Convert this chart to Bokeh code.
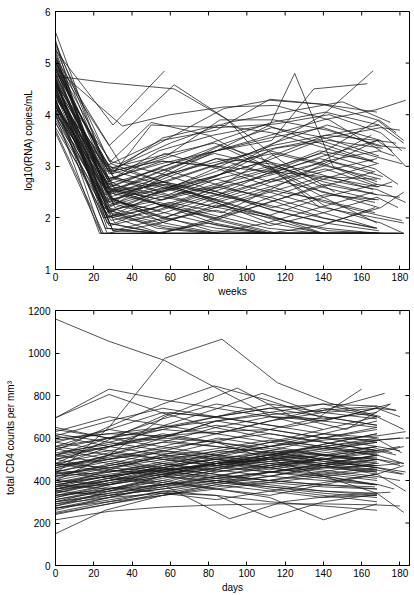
from bokeh.plotting import figure
from bokeh.layouts import column
from bokeh.models import ColumnDataSource, FixedTicker, Range1d
from bokeh.embed import file_html
from bokeh.resources import INLINE

# ---- viral load per subject (weeks, log10 copies/mL) ----
rna_weeks = [
    [0, 27, 62, 90, 118, 146],
    [0, 30, 57],
    [0, 28, 62, 90, 112, 138],
    [0, 35, 60, 88, 115, 143, 170],
    [0, 29, 50, 80, 110, 140, 168],
    [0, 27, 54, 84, 112, 125, 145, 168],
    [0, 28, 56, 84, 113, 135, 163],
    [0, 27, 55, 84, 112, 140, 166],
    [0, 28, 56, 84, 112, 140, 168, 183],
    [0, 26, 55, 84, 112, 140, 168, 182],
    [0, 30, 58, 86, 114, 142, 170],
    [0, 25, 53, 82, 110, 138, 166, 180],
    [0, 24, 52, 80, 108, 136, 164, 178],
    [0, 28, 56, 84, 112, 140, 168],
    [0, 27, 55, 83, 111, 139, 167],
    [0, 30, 58, 86, 114, 142, 170, 182],
    [0, 26, 54, 82, 110, 138, 166],
    [0, 29, 57, 85, 113, 141, 169],
    [0, 28, 55, 84, 112, 140, 168, 176],
    [0, 27, 56, 85, 113, 141, 169],
    [0, 31, 59, 87, 115, 143, 171],
    [0, 25, 53, 81, 109, 137, 165, 179],
    [0, 28, 56, 84, 112, 140, 168],
    [0, 27, 54, 82, 110, 138, 166, 181],
    [0, 30, 57, 85, 113, 141, 169],
    [0, 29, 56, 84, 112, 140, 168, 180],
    [0, 26, 55, 83, 111, 139, 167],
    [0, 28, 57, 85, 113, 141, 169, 178],
    [0, 27, 55, 84, 112, 140, 168],
    [0, 31, 58, 86, 114, 142, 170, 183],
    [0, 25, 54, 82, 110, 138, 166],
    [0, 29, 57, 85, 113, 141, 169],
    [0, 28, 56, 84, 112, 140, 168, 182],
    [0, 27, 54, 83, 111, 139, 167],
    [0, 30, 58, 86, 114, 142, 170],
    [0, 26, 55, 83, 111, 139, 167, 181],
    [0, 28, 56, 85, 113, 141, 169],
    [0, 29, 57, 84, 112, 140, 168],
    [0, 27, 56, 84, 112, 140, 168, 180],
    [0, 28, 55, 83, 111, 139, 167],
    [0, 31, 59, 87, 115, 143, 171],
    [0, 25, 53, 81, 109, 137, 165],
    [0, 30, 57, 85, 113, 141, 169, 182],
    [0, 27, 55, 84, 112, 140, 168],
    [0, 28, 56, 84, 112, 140, 168, 176],
    [0, 26, 54, 82, 110, 138, 166],
    [0, 29, 58, 86, 114, 142, 170, 180],
    [0, 27, 55, 83, 111, 139, 167],
    [0, 28, 57, 85, 113, 141, 169],
    [0, 30, 56, 84, 112, 140, 168, 183],
    [0, 24, 52, 80, 108, 136, 164],
    [0, 27, 55, 84, 112, 140, 168, 179],
    [0, 28, 56, 85, 113, 141, 169],
    [0, 31, 58, 86, 114, 142, 170],
    [0, 26, 54, 83, 111, 139, 167, 182],
    [0, 29, 57, 85, 113, 141, 169],
    [0, 27, 55, 84, 112, 140, 168],
    [0, 28, 56, 84, 112, 140, 168, 178],
    [0, 30, 58, 86, 114, 142, 170],
    [0, 25, 53, 82, 110, 138, 166],
    [0, 28, 57, 85, 113, 141, 169, 181],
    [0, 27, 56, 84, 112, 140, 168],
    [0, 29, 55, 83, 111, 139, 167],
    [0, 28, 56, 85, 113, 141, 169, 177],
    [0, 26, 54, 82, 110, 138, 166],
    [0, 30, 58, 86, 114, 142, 170, 182],
    [0, 27, 55, 83, 111, 139, 167],
    [0, 28, 56, 84, 112, 140, 168],
    [0, 31, 59, 87, 115, 143, 171, 180],
    [0, 25, 54, 82, 110, 138, 166],
    [0, 29, 57, 85, 113, 141, 169],
    [0, 27, 55, 84, 112, 140, 168, 183],
    [0, 28, 56, 84, 112, 140, 168],
    [0, 30, 57, 85, 113, 141, 169],
    [0, 26, 55, 83, 111, 139, 167, 179],
    [0, 28, 56, 85, 113, 141, 169],
    [0, 27, 54, 82, 110, 138, 166],
    [0, 29, 57, 85, 113, 141, 169, 182],
    [0, 28, 56, 84, 112, 140, 168],
    [0, 23, 50, 78, 106, 134, 162],
    [0, 32, 60, 88, 116, 144, 172],
    [0, 28, 56, 84, 112, 140, 168, 176],
    [0, 34, 62, 88, 112, 140, 168],
    [0, 30, 50, 85, 115, 143, 170, 181],
    [0, 27, 60, 90, 120, 150, 175],
]
rna_log10 = [
    [4.75, 4.62, 4.5, 3.9, 3.1, 2.5],
    [5.25, 3.8, 4.85],
    [5.0, 3.4, 4.58, 3.9, 3.0, 2.2],
    [4.9, 3.78, 4.0, 4.15, 4.18, 3.9, 3.3],
    [4.6, 3.1, 3.85, 3.6, 3.0, 2.4, 1.9],
    [4.4, 2.5, 2.9, 3.3, 3.8, 4.8, 3.0, 2.7],
    [4.2, 2.2, 2.8, 3.3, 3.5, 4.5, 4.6],
    [4.5, 2.0, 2.5, 2.8, 3.4, 4.0, 4.85],
    [4.8, 2.6, 3.0, 3.3, 3.6, 3.9, 4.1, 4.28],
    [5.6, 3.0, 3.5, 3.7, 4.3, 4.2, 3.9, 3.5],
    [4.1, 2.9, 3.2, 3.9, 3.9, 3.7, 3.4],
    [3.7, 1.7, 1.7, 1.7, 1.7, 1.7, 1.7, 1.7],
    [4.3, 1.7, 1.7, 1.9, 1.7, 1.7, 1.7, 1.7],
    [4.9, 2.4, 2.0, 1.8, 1.7, 1.7, 1.7],
    [5.1, 2.8, 2.6, 2.3, 2.0, 1.7, 1.7],
    [4.6, 2.3, 2.9, 3.4, 2.9, 2.2, 1.9, 1.7],
    [4.0, 2.1, 2.4, 2.6, 2.9, 3.3, 3.1],
    [4.35, 2.7, 2.2, 2.6, 3.2, 3.6, 3.8],
    [4.55, 2.9, 3.1, 3.0, 2.7, 3.0, 3.5, 3.3],
    [3.95, 2.5, 2.7, 3.05, 3.4, 3.6, 3.5],
    [4.25, 1.9, 2.3, 2.1, 2.6, 3.1, 2.8],
    [4.7, 2.2, 1.8, 1.7, 1.7, 1.7, 1.7, 1.7],
    [5.3, 2.75, 3.1, 3.0, 2.9, 2.8, 2.75],
    [4.15, 2.35, 2.55, 2.8, 3.1, 3.5, 3.2, 3.05],
    [4.45, 2.6, 2.4, 2.2, 2.0, 1.8, 1.7],
    [5.0, 3.05, 2.7, 2.3, 1.9, 1.7, 1.7, 1.7],
    [4.6, 2.45, 2.9, 3.25, 3.0, 2.5, 2.3],
    [3.85, 1.85, 2.1, 2.45, 2.9, 3.3, 3.9, 3.65],
    [4.3, 2.05, 1.7, 2.0, 2.4, 2.1, 1.8],
    [4.8, 2.2, 2.55, 3.0, 3.45, 3.8, 3.5, 3.0],
    [5.15, 2.65, 3.3, 3.6, 3.8, 3.45, 3.1],
    [4.05, 2.4, 1.9, 1.7, 1.7, 1.7, 1.7],
    [4.65, 2.15, 2.35, 2.75, 2.5, 2.2, 2.0, 1.9],
    [4.95, 2.95, 3.2, 3.45, 3.1, 2.6, 2.35],
    [4.4, 1.75, 1.7, 1.7, 1.7, 1.7, 1.7],
    [4.2, 2.6, 2.25, 1.9, 1.7, 1.7, 1.7, 1.7],
    [5.4, 2.85, 3.55, 3.8, 3.65, 3.35, 3.05],
    [4.75, 2.5, 2.65, 2.35, 2.05, 2.4, 2.65],
    [3.9, 2.3, 2.75, 3.15, 3.05, 2.7, 2.45, 2.4],
    [4.5, 1.9, 1.7, 1.7, 1.7, 1.85, 2.2],
    [4.85, 2.75, 2.45, 2.85, 3.35, 3.5, 3.35],
    [4.1, 2.0, 2.2, 2.55, 2.8, 3.05, 3.6],
    [5.05, 2.35, 2.1, 1.85, 1.7, 1.7, 1.7, 1.7],
    [4.35, 2.65, 2.95, 2.65, 2.35, 2.0, 1.8],
    [4.6, 2.1, 2.55, 2.9, 3.3, 3.05, 2.65, 2.6],
    [5.2, 2.4, 2.05, 1.75, 1.7, 1.7, 1.7],
    [4.0, 2.55, 2.85, 3.1, 3.35, 3.55, 3.75, 3.7],
    [4.7, 1.8, 1.7, 1.95, 2.3, 2.6, 2.9],
    [4.25, 2.25, 2.6, 2.35, 2.7, 2.95, 2.6],
    [4.9, 2.8, 2.5, 2.75, 3.0, 2.75, 2.55, 2.3],
    [3.65, 1.7, 1.7, 1.7, 1.7, 1.7, 1.7],
    [4.45, 2.2, 1.95, 2.15, 1.85, 2.1, 2.4, 2.2],
    [5.35, 3.1, 2.85, 2.5, 2.15, 1.9, 1.75],
    [4.15, 2.45, 2.7, 3.05, 3.25, 3.0, 2.75],
    [4.55, 2.0, 2.3, 2.05, 1.8, 1.7, 1.7, 1.7],
    [4.8, 2.6, 3.0, 3.4, 3.75, 3.55, 3.2],
    [4.3, 1.7, 1.9, 2.25, 2.05, 1.7, 1.7],
    [5.0, 2.45, 2.8, 3.15, 2.85, 3.2, 3.5, 3.45],
    [4.65, 2.05, 1.8, 1.7, 1.7, 1.7, 1.7],
    [4.05, 2.35, 2.15, 2.5, 2.85, 3.15, 2.9],
    [4.4, 2.7, 3.25, 2.95, 2.6, 2.3, 2.05, 1.95],
    [5.1, 2.5, 2.25, 2.0, 2.3, 2.65, 2.45],
    [3.75, 1.95, 2.15, 2.45, 2.25, 2.0, 1.8],
    [4.85, 3.0, 2.7, 2.45, 2.75, 3.1, 3.3, 3.2],
    [4.2, 1.8, 1.7, 1.7, 1.9, 2.2, 2.5],
    [4.6, 2.35, 2.65, 2.45, 2.15, 1.9, 2.2, 2.5],
    [4.95, 2.15, 1.9, 2.2, 2.55, 2.35, 2.1],
    [4.5, 2.55, 2.35, 2.6, 2.4, 2.75, 3.05],
    [4.3, 2.9, 2.6, 2.3, 2.0, 1.75, 1.7, 1.7],
    [5.45, 2.2, 2.5, 2.8, 3.1, 2.85, 2.55],
    [4.1, 2.0, 2.25, 1.95, 1.7, 1.7, 1.7],
    [4.7, 2.75, 3.05, 3.3, 3.55, 3.75, 3.4, 3.35],
    [3.85, 2.1, 1.85, 1.7, 1.7, 1.7, 1.7],
    [4.55, 1.75, 2.0, 2.4, 2.75, 2.5, 2.2],
    [5.05, 2.6, 2.35, 2.65, 2.95, 3.25, 2.95, 2.65],
    [4.25, 2.4, 2.7, 2.5, 2.2, 2.45, 2.35],
    [4.75, 1.9, 1.7, 1.7, 1.7, 1.7, 1.7],
    [4.4, 2.85, 3.15, 3.5, 3.85, 4.05, 3.8, 3.45],
    [5.25, 2.3, 2.0, 2.3, 2.6, 2.9, 3.15],
    [4.0, 1.7, 1.7, 1.7, 1.7, 1.7, 1.7],
    [4.6, 2.5, 2.2, 1.95, 1.7, 1.7, 1.7],
    [4.15, 2.65, 2.45, 2.2, 2.5, 2.8, 2.6, 2.7],
    [5.1, 3.05, 3.6, 4.12, 4.28, 4.2, 4.05],
    [4.9, 2.85, 3.8, 3.75, 3.82, 4.0, 3.65, 3.3],
    [4.65, 2.9, 3.45, 3.85, 4.05, 4.25, 3.85],
]

# ---- CD4 counts per subject (days, cells per mm^3) ----
cd4_days = [
    [0, 28, 57, 85, 113, 140],
    [0, 28, 57, 87, 116, 143, 170],
    [0, 28, 56, 84, 112, 140, 168],
    [0, 28, 55, 83, 111, 139, 167],
    [0, 27, 56, 83, 110, 138, 160],
    [0, 29, 57, 85, 108, 136, 172],
    [0, 28, 57, 95, 124, 152, 175],
    [0, 26, 56, 84, 112, 140, 168],
    [0, 28, 56, 84, 112, 140, 168, 180],
    [0, 28, 56, 91, 119, 147, 175],
    [0, 28, 56, 84, 112, 140, 168],
    [0, 28, 56, 84, 112, 140, 168],
    [0, 28, 56, 84, 112, 140, 168, 182],
    [0, 27, 55, 83, 111, 139, 167, 180],
    [0, 28, 56, 84, 112, 140, 168],
    [0, 29, 57, 85, 113, 141, 169],
    [0, 28, 56, 84, 112, 140, 168, 183],
    [0, 28, 56, 84, 112, 140, 168, 182],
    [0, 28, 56, 84, 112, 140, 168],
    [0, 28, 56, 84, 112, 140, 168, 178],
    [0, 28, 56, 84, 112, 140, 168],
    [0, 28, 57, 85, 113, 141, 169],
    [0, 28, 56, 84, 112, 140, 168],
    [0, 27, 55, 83, 111, 139, 167, 181],
    [0, 28, 56, 84, 112, 140, 168],
    [0, 28, 56, 84, 112, 140, 168],
    [0, 29, 57, 85, 113, 141, 169],
    [0, 28, 56, 84, 112, 140, 168, 180],
    [0, 28, 56, 84, 112, 140, 168],
    [0, 28, 56, 84, 112, 140, 168],
    [0, 27, 56, 84, 112, 140, 168, 182],
    [0, 28, 56, 84, 112, 140, 168],
    [0, 28, 56, 84, 112, 140, 168],
    [0, 28, 57, 85, 113, 141, 169, 177],
    [0, 28, 56, 84, 112, 140, 168],
    [0, 28, 56, 84, 112, 140, 168],
    [0, 28, 56, 84, 112, 140, 168, 182],
    [0, 28, 56, 84, 112, 140, 168],
    [0, 28, 56, 84, 112, 140, 168],
    [0, 27, 55, 83, 111, 139, 167],
    [0, 28, 56, 84, 112, 140, 168, 180],
    [0, 28, 56, 84, 112, 140, 168],
    [0, 28, 56, 84, 112, 140, 168],
    [0, 29, 57, 85, 113, 141, 169, 183],
    [0, 28, 56, 84, 112, 140, 168],
    [0, 28, 56, 84, 112, 140, 168],
    [0, 28, 56, 84, 112, 140, 168],
    [0, 28, 56, 84, 112, 140, 168, 176],
    [0, 28, 56, 84, 112, 140, 168],
    [0, 28, 56, 84, 112, 140, 168],
    [0, 27, 56, 84, 112, 140, 168],
    [0, 28, 56, 84, 112, 140, 168, 182],
    [0, 28, 56, 84, 112, 140, 168],
    [0, 28, 56, 84, 112, 140, 168],
    [0, 28, 57, 85, 113, 141, 169],
    [0, 28, 56, 84, 112, 140, 168, 180],
    [0, 28, 56, 84, 112, 140, 168],
    [0, 28, 56, 84, 112, 140, 168],
    [0, 28, 56, 84, 112, 140, 168],
    [0, 28, 56, 84, 112, 140, 168, 182],
    [0, 28, 56, 84, 112, 140, 168],
    [0, 28, 56, 84, 112, 140, 168],
    [0, 27, 55, 83, 111, 139, 167],
    [0, 28, 56, 84, 112, 140, 168, 178],
    [0, 28, 56, 84, 112, 140, 168],
    [0, 28, 56, 84, 112, 140, 168],
    [0, 28, 56, 84, 112, 140, 168],
    [0, 28, 56, 84, 112, 140, 168, 182],
    [0, 28, 56, 84, 112, 140, 168],
    [0, 28, 56, 84, 112, 140, 168],
    [0, 28, 56, 84, 112, 140, 168],
    [0, 28, 56, 84, 112, 140, 168, 180],
    [0, 28, 56, 84, 112, 140, 168],
    [0, 28, 56, 84, 112, 140, 168],
    [0, 28, 56, 84, 112, 140, 168],
    [0, 29, 57, 85, 113, 141, 169, 181],
    [0, 28, 56, 84, 112, 140, 168],
    [0, 28, 56, 84, 112, 140, 168],
    [0, 28, 56, 84, 112, 140, 168],
    [0, 28, 56, 84, 112, 140, 168, 183],
    [0, 28, 56, 84, 112, 140, 168],
    [0, 28, 56, 84, 112, 140, 168],
    [0, 28, 56, 84, 112, 140, 168],
    [0, 28, 56, 84, 112, 140, 168, 180],
    [0, 28, 56, 84, 112, 140, 168],
    [0, 28, 56, 84, 112, 140, 168, 178],
    [0, 30, 60, 90, 120, 150, 175],
    [0, 28, 56, 84, 112, 140, 168],
    [0, 28, 56, 84, 112, 140, 168, 180],
    [0, 28, 56, 84, 112, 140, 168],
    [0, 28, 56, 84, 112, 140, 168],
    [0, 28, 56, 84, 112, 140, 168, 182],
    [0, 28, 56, 84, 112, 140, 168],
]
cd4_counts = [
    [1160, 1055, 965, 830, 700, 640],
    [430, 650, 975, 1065, 860, 765, 700],
    [695, 830, 780, 740, 700, 690, 720],
    [695, 805, 720, 650, 600, 560, 520],
    [540, 650, 760, 845, 780, 700, 830],
    [470, 560, 660, 740, 810, 720, 810],
    [400, 520, 700, 835, 700, 640, 760],
    [150, 260, 330, 380, 420, 460, 500],
    [215, 255, 275, 285, 290, 290, 285, 280],
    [330, 360, 380, 220, 300, 330, 345],
    [290, 320, 340, 330, 225, 300, 335],
    [380, 420, 390, 360, 320, 215, 290],
    [600, 620, 610, 630, 640, 600, 590, 600],
    [650, 600, 560, 520, 480, 450, 420, 400],
    [245, 290, 330, 370, 400, 430, 460],
    [270, 310, 350, 390, 440, 480, 520],
    [360, 410, 470, 530, 560, 590, 610, 630],
    [520, 560, 600, 580, 500, 420, 340, 250],
    [320, 380, 450, 510, 560, 620, 680],
    [440, 500, 560, 620, 680, 720, 740, 730],
    [300, 340, 370, 400, 360, 330, 300],
    [350, 400, 450, 480, 500, 520, 540],
    [390, 430, 460, 500, 470, 440, 410],
    [470, 500, 530, 510, 490, 470, 450, 430],
    [560, 600, 640, 620, 580, 550, 520],
    [250, 300, 350, 330, 300, 280, 260],
    [420, 480, 540, 600, 560, 520, 480],
    [330, 350, 380, 420, 460, 500, 540, 560],
    [480, 460, 440, 420, 400, 380, 360],
    [520, 580, 640, 700, 660, 620, 580],
    [370, 420, 480, 450, 420, 470, 520, 480],
    [280, 330, 390, 450, 510, 570, 620],
    [440, 410, 380, 400, 440, 480, 520],
    [360, 380, 420, 460, 440, 420, 380, 360],
    [620, 580, 540, 500, 460, 420, 380],
    [340, 390, 440, 490, 520, 550, 580],
    [310, 350, 400, 360, 330, 380, 430, 470],
    [460, 520, 580, 650, 700, 680, 650],
    [400, 380, 420, 480, 540, 600, 650],
    [550, 500, 460, 430, 400, 380, 370],
    [290, 340, 380, 410, 440, 460, 470, 480],
    [370, 450, 520, 580, 540, 500, 460],
    [500, 540, 580, 560, 530, 500, 470],
    [430, 460, 500, 540, 520, 490, 460, 440],
    [260, 320, 380, 440, 480, 500, 510],
    [580, 540, 500, 470, 520, 570, 620],
    [350, 330, 360, 400, 380, 350, 330],
    [410, 460, 510, 480, 450, 500, 550, 530],
    [300, 360, 420, 400, 370, 340, 320],
    [640, 600, 650, 700, 740, 700, 660],
    [380, 420, 450, 470, 500, 530, 560],
    [450, 420, 460, 500, 540, 520, 500, 480],
    [320, 370, 340, 310, 350, 390, 430],
    [520, 480, 440, 480, 520, 560, 600],
    [390, 440, 490, 540, 580, 620, 600],
    [270, 320, 370, 420, 470, 520, 560, 540],
    [480, 530, 500, 470, 440, 410, 380],
    [340, 400, 460, 520, 580, 640, 700],
    [420, 470, 520, 500, 480, 460, 440],
    [560, 520, 480, 440, 470, 500, 530, 560],
    [300, 330, 360, 390, 420, 400, 380],
    [470, 510, 550, 590, 620, 580, 540],
    [360, 410, 460, 430, 400, 440, 480],
    [510, 560, 610, 660, 620, 580, 540, 520],
    [240, 290, 340, 380, 350, 320, 330],
    [590, 620, 650, 680, 710, 730, 750],
    [380, 360, 400, 450, 500, 470, 440],
    [330, 380, 430, 480, 520, 490, 460, 430],
    [440, 490, 450, 410, 440, 470, 500],
    [500, 450, 420, 390, 370, 350, 340],
    [360, 400, 440, 480, 460, 510, 560],
    [420, 440, 470, 500, 530, 560, 590, 600],
    [280, 350, 420, 490, 460, 430, 400],
    [530, 570, 610, 580, 550, 520, 490],
    [400, 450, 430, 410, 390, 370, 360],
    [350, 390, 430, 470, 510, 550, 590, 530],
    [460, 500, 540, 520, 500, 480, 470],
    [310, 360, 410, 460, 510, 480, 450],
    [550, 600, 590, 560, 530, 500, 480],
    [390, 420, 450, 480, 510, 470, 430, 350],
    [430, 470, 510, 550, 590, 560, 530],
    [270, 300, 330, 360, 390, 420, 450],
    [610, 560, 520, 480, 500, 540, 580],
    [370, 400, 430, 460, 490, 520, 500, 470],
    [480, 440, 480, 520, 560, 600, 640],
    [560, 640, 720, 700, 740, 760, 750, 730],
    [480, 600, 720, 690, 650, 700, 760],
    [610, 680, 740, 700, 760, 720, 690],
    [520, 600, 690, 760, 720, 680, 740, 700],
    [580, 640, 600, 680, 720, 760, 700],
    [450, 520, 600, 680, 640, 600, 560],
    [630, 700, 660, 620, 680, 740, 700, 640],
    [500, 560, 620, 580, 640, 700, 660],
]

x_ticks = [0, 20, 40, 60, 80, 100, 120, 140, 160, 180]
rna_ticks = [1, 2, 3, 4, 5, 6]
cd4_ticks = [0, 200, 400, 600, 800, 1000, 1200]

FONT = "Liberation Sans"
LINE = "#1a1a1a"
TICK_PX = 4


def style_axes(p, x0, x1, y0, y1, xticks, yticks, xlabel, ylabel, ylabel_standoff):
    p.xaxis.ticker = FixedTicker(ticks=xticks)
    p.yaxis.ticker = FixedTicker(ticks=yticks)
    p.xaxis.axis_label = xlabel
    p.yaxis.axis_label = ylabel
    for ax in (p.xaxis[0], p.yaxis[0]):
        ax.major_tick_in = TICK_PX
        ax.major_tick_out = 0
        ax.minor_tick_line_color = None
        ax.axis_line_color = "black"
        ax.major_tick_line_color = "black"
        ax.major_label_text_font = FONT
        ax.major_label_text_font_size = "10px"
        ax.major_label_text_color = "black"
        ax.axis_label_text_font = FONT
        ax.axis_label_text_font_size = "10px"
        ax.axis_label_text_font_style = "normal"
        ax.axis_label_text_color = "black"
    p.xaxis.major_label_standoff = 3
    p.xaxis.axis_label_standoff = 2
    p.yaxis.major_label_standoff = 5
    p.yaxis.axis_label_standoff = ylabel_standoff
    p.xgrid.visible = False
    p.ygrid.visible = False
    p.outline_line_color = "black"
    p.outline_line_width = 1

    # mirrored inward ticks along the top and right edges of the frame
    fw = p.width - p.min_border_left - p.min_border_right
    fh = p.height - p.min_border_top - p.min_border_bottom
    dx = TICK_PX * (x1 - x0) / fw
    dy = TICK_PX * (y1 - y0) / fh
    p.segment(x0=xticks, y0=[y1] * len(xticks), x1=xticks, y1=[y1 - dy] * len(xticks),
              line_color="black", line_width=1)
    p.segment(x0=[x1] * len(yticks), y0=yticks, x1=[x1 - dx] * len(yticks), y1=yticks,
              line_color="black", line_width=1)


WX = (0, 185)
RNA_Y = (1, 6)
CD4_Y = (0, 1200)

rna = figure(width=414, height=300, output_backend="svg", toolbar_location=None,
             x_range=Range1d(*WX), y_range=Range1d(*RNA_Y),
             min_border_left=38, min_border_right=5, min_border_top=11, min_border_bottom=31)
rna.multi_line(xs="xs", ys="ys", source=ColumnDataSource(dict(xs=rna_weeks, ys=rna_log10)),
               line_color=LINE, line_width=0.9, line_alpha=0.85)
style_axes(rna, *WX, *RNA_Y, x_ticks, rna_ticks, "weeks", "log10(RNA) copies/mL", 8)

cd4 = figure(width=414, height=295, output_backend="svg", toolbar_location=None,
             x_range=Range1d(*WX), y_range=Range1d(*CD4_Y),
             min_border_left=55, min_border_right=5, min_border_top=10, min_border_bottom=27)
cd4.multi_line(xs="xs", ys="ys", source=ColumnDataSource(dict(xs=cd4_days, ys=cd4_counts)),
               line_color=LINE, line_width=0.9, line_alpha=0.85)
style_axes(cd4, *WX, *CD4_Y, x_ticks, cd4_ticks, "days", "total CD4 counts per mm³", 9)

layout = column(rna, cd4, spacing=0)
open("out.html", "w").write(file_html(layout, INLINE))
